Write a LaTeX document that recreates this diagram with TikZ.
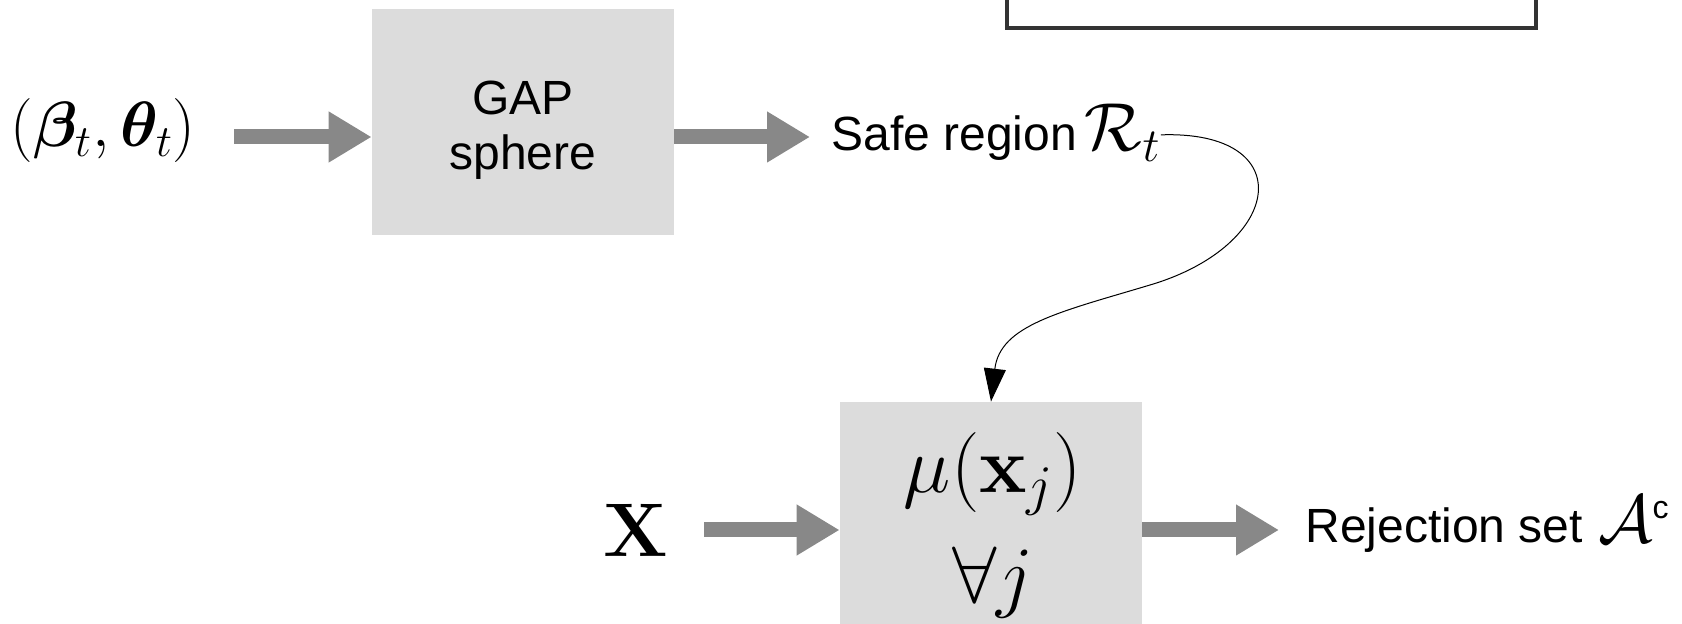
\documentclass[tikz,border=0pt]{standalone}
\usepackage{fix-cm}
\usepackage{amsmath}
\usepackage{bm}
\usepackage[no-math]{fontspec}
\usetikzlibrary{arrows.meta,positioning,calc}
\newfontfamily\labelfont{Liberation Sans}
\definecolor{boxgray}{RGB}{220,220,220}
\definecolor{arrowgray}{RGB}{136,136,136}
\definecolor{framegray}{RGB}{51,51,51}
\newcommand{\bigmath}[1]{{\fontsize{34}{40}\selectfont$#1$}}
\tikzset{
    graybox/.style={fill=boxgray, minimum width=151pt, minimum height=113pt, inner sep=0pt},
    fatarrow/.style={color=arrowgray, line width=7.5pt, -{Triangle[length=21.5pt,width=24pt]}},
    txt/.style={inner sep=0pt, font=\labelfont\fontsize{24}{27.5}\selectfont},
}

\begin{document}
\begin{tikzpicture}[x=0.5pt,y=-0.5pt]
    \useasboundingbox (0,0) rectangle (1682,624);
    \coordinate (row1) at (0,137);
    \coordinate (row2) at (0,530);

    % upper row: iterate -> sphere -> safe region
    \node[anchor=base east, inner sep=0pt] (params) at (196,147) {\fontsize{32}{38}\selectfont$(\bm{\beta}_t,\bm{\theta}_t)$};
    \node[graybox] (gapbox) at (523,122) {};
    \node[txt, align=center] (gaptext) at (523,130) {GAP\\sphere};
    \node[txt, anchor=base west] (safe) at (831,151) {Safe region\,\bigmath{\mathcal{R}_t}};

    % lower row: design matrix -> test -> rejected features
    \node[anchor=base east, inner sep=0pt] (data) at (668,557) {\fontsize{38}{46}\selectfont$\mathbf{X}$};
    \node[graybox] (mubox) at (991,515) {};
    \node[align=center, inner sep=0pt, font=\fontsize{40}{55}\selectfont] (mutext) at (993,525) {$\mu(\mathbf{x}_j)$\\$\forall j$};
    \node[txt, anchor=base west] (reject) at (1305,543) {Rejection set\hspace{1pt} \bigmath{\mathcal{A}^{\hbox{\labelfont\fontsize{16}{19}\selectfont c}}}};

    % framed box, cut by the top edge
    \node[draw=framegray, line width=2pt, minimum width=264.5pt, minimum height=80pt, inner sep=0pt] (rule) at (1271.5,-52) {};

    \draw[fatarrow, shorten <=19pt] (params.east |- row1) -- (gapbox.west |- row1);
    \draw[fatarrow, shorten >=10.5pt] (gapbox.east |- row1) -- (safe.west |- row1);
    \draw[fatarrow, shorten <=18pt] (data.east |- row2) -- (mubox.west |- row2);
    \draw[fatarrow, shorten >=13pt] (mubox.east |- row2) -- (reject.west |- row2);

    \draw[line width=0.5pt, -{Triangle[length=16.5pt,width=11pt]}] ([yshift=-1pt]safe.east)
        .. controls (1300,130) and (1285,245) .. (1150,285)
        .. controls (1060,312) and (1000,325) .. (mubox.north);
\end{tikzpicture}
\end{document}
